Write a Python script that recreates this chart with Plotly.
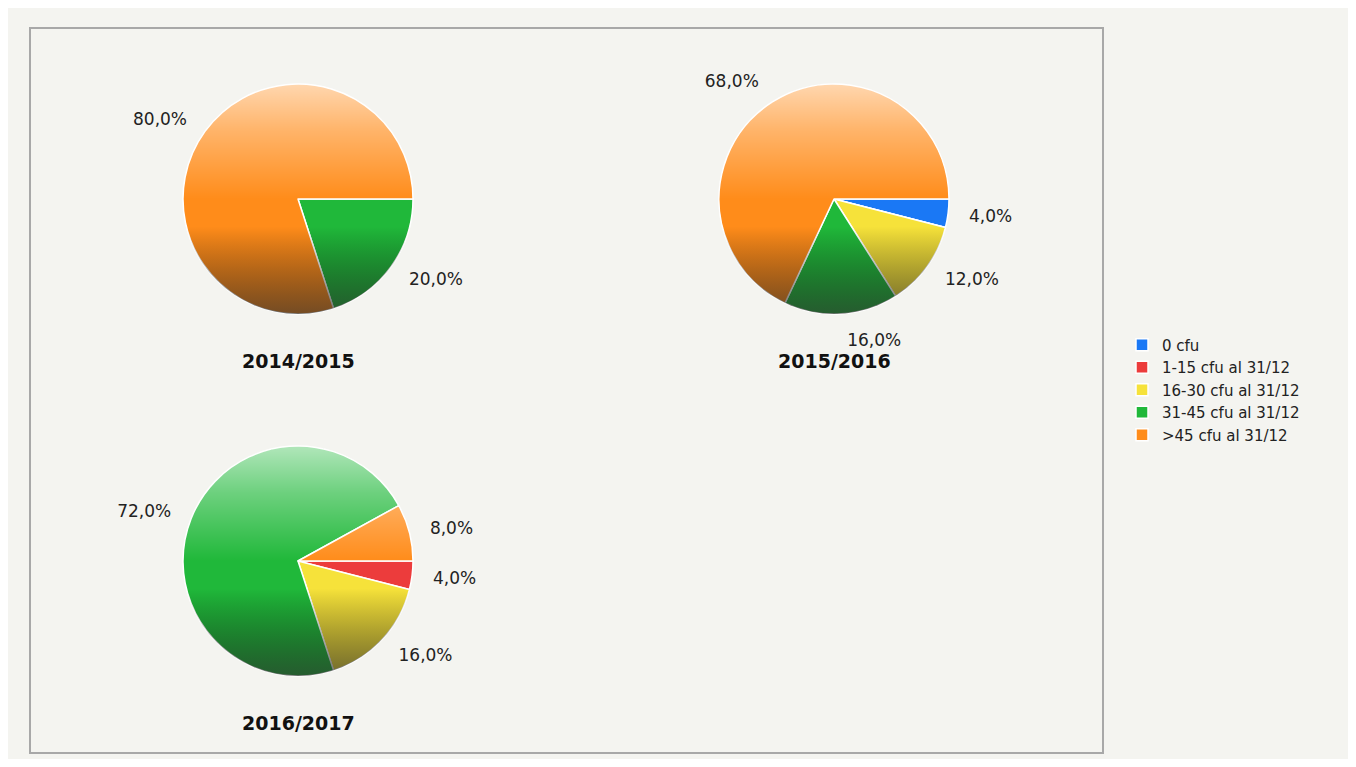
import base64
import plotly.graph_objects as go

# page has an 8px body margin; figure is drawn inside it
OFF = 8
W, H = 1356 - 2 * OFF, 767 - 2 * OFF

categories = ["0 cfu", "1-15 cfu al 31/12", "16-30 cfu al 31/12", "31-45 cfu al 31/12", ">45 cfu al 31/12"]
years = ["2014/2015", "2015/2016", "2016/2017"]
values_2014 = [0, 0, 0, 20.0, 80.0]
values_2015 = [4.0, 0, 12.0, 16.0, 68.0]
values_2016 = [0, 4.0, 16.0, 72.0, 8.0]
series = [values_2014, values_2015, values_2016]

colors = ["#1a78f5", "#ec3c3c", "#f6e23a", "#20b83a", "#ff8c1a"]

# pie centres (page px) and radius (px) for layout
centres = [(298, 199), (834, 199), (298, 561)]
R = 115
RT = 131  # radius of the label ring
BG = "#f4f4f0"

def fmt(v):
    return ("%.1f" % v).replace(".", ",") + "%" if v > 0 else ""

def px_x(x):
    return (x - OFF) / W

def px_y(y):
    return 1 - (y - OFF) / H

grad_svg = (
    '<svg xmlns="http://www.w3.org/2000/svg" viewBox="0 0 100 100">'
    '<defs><linearGradient id="g" x1="0" y1="0" x2="0" y2="1">'
    '<stop offset="0" stop-color="#ffffff" stop-opacity="0.65"/>'
    '<stop offset="0.2" stop-color="#ffffff" stop-opacity="0.35"/>'
    '<stop offset="0.5" stop-color="#ffffff" stop-opacity="0"/>'
    '<stop offset="0.62" stop-color="#000000" stop-opacity="0"/>'
    '<stop offset="1" stop-color="#2a2a2a" stop-opacity="0.65"/>'
    '</linearGradient></defs>'
    '<circle cx="50" cy="50" r="50" fill="url(#g)"/></svg>'
)
grad_uri = "data:image/svg+xml;base64," + base64.b64encode(grad_svg.encode()).decode()

fig = go.Figure()
images = []
annotations = []
for i, (vals, (cx, cy)) in enumerate(zip(series, centres)):
    x0, x1 = px_x(cx - R), px_x(cx + R)
    y0, y1 = px_y(cy + R), px_y(cy - R)
    fig.add_trace(go.Pie(
        labels=categories,
        values=vals,
        textinfo="none",
        sort=False,
        direction="clockwise",
        rotation=90,
        marker=dict(colors=colors, line=dict(color="#ffffff", width=1.5)),
        domain=dict(x=[x0, x1], y=[y0, y1]),
        showlegend=True,
        hoverinfo="label+percent",
    ))
    # transparent, slightly larger ring carrying the outside labels
    fig.add_trace(go.Pie(
        labels=categories,
        values=vals,
        text=[fmt(v) for v in vals],
        textinfo="text",
        textposition="outside",
        sort=False,
        direction="clockwise",
        rotation=90,
        marker=dict(colors=["rgba(0,0,0,0)"] * len(vals), line=dict(width=0)),
        textfont=dict(family="DejaVu Sans", size=17, color="#222222"),
        domain=dict(x=[px_x(cx - RT), px_x(cx + RT)], y=[px_y(cy + RT), px_y(cy - RT)]),
        showlegend=False,
        hoverinfo="skip",
    ))
    images.append(dict(source=grad_uri, xref="paper", yref="paper",
                       x=x0, y=y1, sizex=x1 - x0, sizey=y1 - y0,
                       xanchor="left", yanchor="top", sizing="stretch",
                       layer="above", opacity=1))
    annotations.append(dict(text="<b>%s</b>" % years[i], xref="paper", yref="paper",
                            x=px_x(cx), y=px_y(cy + R + 47), showarrow=False,
                            font=dict(family="DejaVu Sans", size=19, color="#111111"),
                            xanchor="center", yanchor="middle"))

fig.update_layout(
    width=W, height=H,
    margin=dict(l=0, r=0, t=0, b=0),
    paper_bgcolor=BG,
    plot_bgcolor=BG,
    images=images,
    annotations=annotations,
    shapes=[
        dict(type="rect", xref="paper", yref="paper", x0=px_x(30), x1=px_x(1103),
             y0=px_y(753), y1=px_y(28), fillcolor="rgba(0,0,0,0)",
             line=dict(color="#a8a8a8", width=2), layer="below"),
    ],
    legend=dict(x=px_x(1122), y=px_y(390), xanchor="left", yanchor="middle",
                font=dict(family="DejaVu Sans", size=15, color="#222222"),
                bgcolor="rgba(0,0,0,0)", itemwidth=30, tracegroupgap=0),
    font=dict(family="DejaVu Sans"),
)

fig.write_html("out.html")
